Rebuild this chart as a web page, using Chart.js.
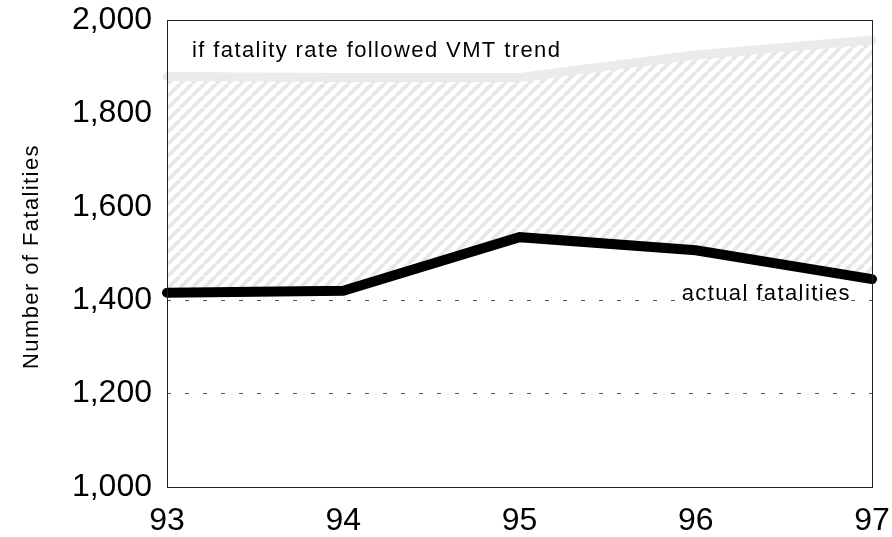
<!DOCTYPE html>
<html>
<head>
<meta charset="utf-8">
<script src="https://cdn.jsdelivr.net/npm/chart.js@4.4.1/dist/chart.umd.min.js"></script>
<style>
  html, body { margin: 0; padding: 0; background: #fff; }
  canvas { display: block; }
</style>
</head>
<body>
<canvas id="fatalities-chart" width="892" height="537"></canvas>
<script>
// Traffic fatalities, actual vs. what the VMT trend would have given
var years = ['93', '94', '95', '96', '97'];
var actualFatalities = [1416, 1420, 1535, 1507, 1445];
var vmtTrendFatalities = [1879, 1877, 1877, 1925, 1957];
var yMin = 1000, yMax = 2000, yStep = 200;

var FONT = 'Arial, "Liberation Sans", sans-serif';

// light diagonal hatch on white for the gap between the two lines
function makeHatch() {
    var s = 12;
    var c = document.createElement('canvas');
    c.width = s; c.height = s;
    var g = c.getContext('2d');
    g.fillStyle = '#fff';
    g.fillRect(0, 0, s, s);
    g.strokeStyle = '#e6e6e6';
    g.lineWidth = 3.8;
    [-s, 0, s].forEach(function (k) {
        g.beginPath();
        g.moveTo(k, s);
        g.lineTo(k + s, 0);
        g.stroke();
    });
    return g.createPattern(c, 'repeat');
}

// fixed box sizes, no extra room reserved for edge labels
function fixBox(w, h) {
    return function (scale) {
        if (w) scale.width = w;
        if (h) scale.height = h;
        scale.paddingLeft = scale.paddingRight = 0;
        scale.paddingTop = scale.paddingBottom = 0;
    };
}

var ctx = document.getElementById('fatalities-chart').getContext('2d');

var frameAndLabels = {
    id: 'frameAndLabels',
    afterDatasetsDraw: function (chart) {
        var c = chart.ctx, a = chart.chartArea;
        var y = chart.scales.y;
        c.save();
        c.strokeStyle = '#222';
        c.lineWidth = 1;
        c.strokeRect(Math.round(a.left) + 0.5, Math.round(a.top) + 0.5,
                     Math.round(a.right - a.left), Math.round(a.bottom - a.top));

        c.fillStyle = '#000';
        c.font = '22px ' + FONT;
        if ('letterSpacing' in c) c.letterSpacing = '1.4px';
        c.textBaseline = 'alphabetic';
        c.textAlign = 'left';
        c.fillText('if fatality rate followed VMT trend', a.left + 25, y.getPixelForValue(1921));
        c.textAlign = 'right';
        c.fillText('actual fatalities', a.right - 21, y.getPixelForValue(1400));

        // y axis title
        c.translate(38, (a.top + a.bottom) / 2 + 3);
        c.rotate(-Math.PI / 2);
        c.textAlign = 'center';
        c.fillText('Number of Fatalities', 0, 0);
        c.restore();
    }
};

new Chart(ctx, {
    type: 'line',
    data: {
        labels: years,
        datasets: [
            {
                label: 'actual fatalities',
                data: actualFatalities,
                borderColor: '#000',
                borderWidth: 10,
                borderCapStyle: 'round',
                borderJoinStyle: 'miter',
                pointRadius: 0,
                tension: 0,
                fill: false
            },
            {
                label: 'if fatality rate followed VMT trend',
                data: vmtTrendFatalities,
                borderColor: '#ebebeb',
                borderWidth: 9,
                borderCapStyle: 'round',
                pointRadius: 0,
                tension: 0,
                backgroundColor: makeHatch(),
                fill: '-1'
            }
        ]
    },
    options: {
        responsive: false,
        animation: false,
        devicePixelRatio: 1,
        layout: { padding: { top: 20, right: 20, bottom: 0, left: 0 } },
        plugins: {
            legend: { display: false },
            tooltip: { enabled: false }
        },
        scales: {
            x: {
                type: 'category',
                offset: false,
                grid: { display: false, drawTicks: false },
                border: { display: false },
                ticks: {
                    color: '#000',
                    font: { family: FONT, size: 32 },
                    padding: 15,
                    maxRotation: 0,
                    autoSkip: false
                },
                afterFit: fixBox(0, 50)
            },
            y: {
                min: yMin,
                max: yMax,
                grid: { color: '#555', drawTicks: false, lineWidth: 1 },
                border: { display: false, dash: [4, 14] },
                ticks: {
                    stepSize: yStep,
                    color: '#000',
                    font: { family: FONT, size: 32 },
                    padding: 15,
                    callback: function (v) { return v.toLocaleString('en-US'); }
                },
                afterFit: fixBox(167, 0)
            }
        }
    },
    plugins: [frameAndLabels]
});
</script>
</body>
</html>
